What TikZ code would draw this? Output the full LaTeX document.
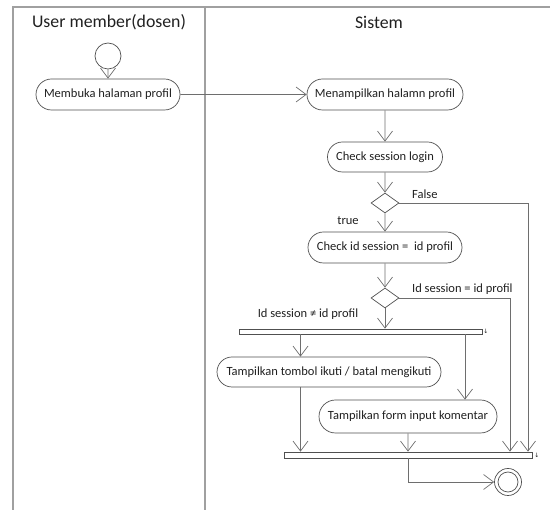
\documentclass[tikz,border=0pt]{standalone}
\usepackage{fontspec}
\setmainfont{Carlito}
\newfontfamily\symfont{DejaVu Sans}
\usetikzlibrary{shapes.misc,shapes.geometric,arrows.meta}
\definecolor{lanegray}{HTML}{A0A0A0}
\definecolor{edgegray}{HTML}{6E6E6E}
\definecolor{boxgray}{HTML}{505050}
\definecolor{txt}{HTML}{202020}
\begin{document}
\begin{tikzpicture}[x=1pt, y=-1pt,
    act/.style={rounded rectangle, draw=boxgray, line width=0.7pt, minimum height=31pt, inner sep=0pt, text=txt, font=\fontsize{12.5}{14}\selectfont},
    dec/.style={diamond, draw=boxgray, line width=0.7pt, minimum width=28pt, minimum height=20pt, inner sep=0pt},
    bar/.style={rectangle, draw=boxgray, fill=white, line width=0.7pt, inner sep=0pt},
    flow/.style={draw=edgegray, line width=0.7pt, -{Straight Barb[length=10pt, width=15pt]}},
    lbl/.style={text=txt, font=\fontsize{12.5}{14}\selectfont, inner sep=0pt},
    barmark/.style={text=txt, font=\symfont\fontsize{6}{6}\selectfont, inner sep=0pt},
    lane/.style={text=txt, font=\fontsize{17.8}{21}\selectfont}]
  \useasboundingbox (0,0) rectangle (550,510);
  % swimlanes
  \draw[lanegray, line width=1.4pt] (13,510) -- (13,7) -- (550,7);
  \draw[lanegray, line width=1.4pt] (205,7) -- (205,510);
  \node[lane] (user) at (109,22) {User member(dosen)};
  \node[lane] (sys) at (379,22) {Sistem};
  % nodes
  \node[circle, draw=boxgray, line width=0.7pt, minimum size=26pt, inner sep=0pt] (start) at (108,56) {};
  \node[act, minimum width=144pt] (buka) at (108,94.5) {Membuka halaman profil};
  \node[act, minimum width=156pt] (tampil) at (385,94.5) {Menampilkan halamn profil};
  \node[act, minimum width=115pt, minimum height=30pt] (login) at (385,157) {Check session login};
  \node[dec] (d1) at (385,203) {};
  \node[act, minimum width=154pt] (cekid) at (385,247.5) {Check id session =\ \ id profil};
  \node[dec] (d2) at (385,298) {};
  \node[bar, minimum width=243pt, minimum height=5pt] (fork) at (360.5,331.5) {};
  \node[act, minimum width=224pt, minimum height=30pt] (tombol) at (329,372) {Tampilkan tombol ikuti / batal mengikuti};
  \node[act, minimum width=178pt, minimum height=33pt] (form) at (408,416.5) {Tampilkan form input komentar};
  \node[bar, minimum width=248pt, minimum height=6pt] (join) at (408,455) {};
  \node[circle, draw=boxgray, line width=0.7pt, minimum size=27pt, inner sep=0pt] (end) at (508,482) {};
  \node[circle, draw=boxgray, line width=0.7pt, minimum size=20pt, inner sep=0pt] (endin) at (508,482) {};
  \node[barmark] (fmark) at (486,331) {↓};
  \node[barmark] (jmark) at (537,455) {↓};
  \coordinate (fx) at (528,0);
  \coordinate (ix) at (510,0);
  \coordinate (tx) at (300.5,0);
  \coordinate (kx) at (465,0);
  % edges
  \draw[flow] (start) -- (buka);
  \draw[flow] (buka) -- (tampil);
  \draw[flow] (tampil) -- (login);
  \draw[flow] (login) -- (d1);
  \draw[flow] (d1) -- (cekid);
  \draw[flow] (d1.east) -| (fx |- join.north);
  \draw[flow] (cekid) -- (d2);
  \draw[flow] (d2.east) -| (ix |- join.north);
  \draw[flow] (d2.south) -- (d2.south |- fork.north);
  \draw[flow] (tx |- fork.south) -- (tx |- tombol.north);
  \draw[flow] (kx |- fork.south) -- (kx |- form.north);
  \draw[flow] (tx |- tombol.south) -- (tx |- join.north);
  \draw[flow] (form) -- (join);
  \draw[flow] (join.south) |- (end.west);
  % labels
  \node[lbl, anchor=west] (lfalse) at (412,194) {False};
  \node[lbl] (ltrue) at (348,221) {true};
  \node[lbl, anchor=west] (lsama) at (412,289) {Id session = id profil};
  \node[lbl] (lbeda) at (308,314) {Id session ≠ id profil};
\end{tikzpicture}
\end{document}
